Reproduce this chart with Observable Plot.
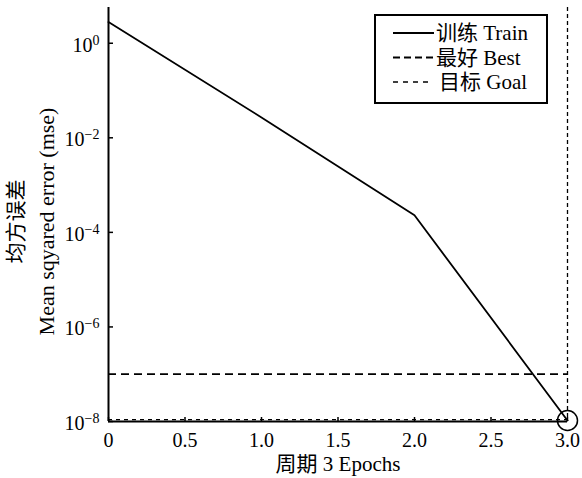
<!DOCTYPE html>
<html>
<head>
<meta charset="utf-8">
<script src="https://cdn.jsdelivr.net/npm/d3@7"></script>
<script src="https://cdn.jsdelivr.net/npm/@observablehq/plot@0.6"></script>
<style>
  html, body { margin: 0; padding: 0; background: #fff; }
  #chart { width: 582px; height: 478px; }
</style>
</head>
<body>
<div id="chart"></div>
<script>
// Training performance (mean squared error per epoch, log scale)
const epochs = [0, 1, 2, 3];
const trainMse = [2.8, 0.027, 2.3e-4, 1.05e-8];
const bestMse = 1e-7;
const goalMse = 1.1e-8;
const bestEpoch = 3;

const xDomain = [0, 3];
const yDomain = [1e-8, 5.7];
const xTicks = [0, 0.5, 1, 1.5, 2, 2.5, 3];
const yTicks = [1e0, 1e-2, 1e-4, 1e-6, 1e-8];

const legendLabels = ["训练 Train", "最好 Best", "目标 Goal"];
const xLabel = "周期 3 Epochs";
const yLabelLines = ["均方误差", "Mean sqyared error (mse)"];

const serif = '"Liberation Serif", "Times New Roman", "Noto Sans CJK SC", serif';
const train = epochs.map((e, i) => ({epoch: e, mse: trainMse[i]}));

const plot = Plot.plot({
  width: 582,
  height: 478,
  marginLeft: 108,
  marginRight: 15,
  marginTop: 7,
  marginBottom: 57,
  style: {fontFamily: serif, fontSize: "20px", background: "#fff", color: "#000"},
  x: {domain: xDomain},
  y: {type: "log", domain: yDomain},
  marks: [
    Plot.ruleY([goalMse], {stroke: "#000", strokeWidth: 1.3, strokeDasharray: "4,4"}),
    Plot.ruleY([bestMse], {stroke: "#000", strokeWidth: 1.8, strokeDasharray: "8,5"}),
    Plot.ruleX([bestEpoch], {stroke: "#000", strokeWidth: 1.3, strokeDasharray: "4,3"}),
    Plot.line(train, {x: "epoch", y: "mse", stroke: "#000", strokeWidth: 1.8}),
    Plot.dot([train[train.length - 1]], {x: "epoch", y: "mse", r: 10, stroke: "#000", strokeWidth: 1.5, fill: "none"}),
    Plot.axisX({
      ticks: xTicks,
      tickFormat: d => d === 0 ? "0" : d.toFixed(1),
      tickSize: -4,
      tickPadding: 15,
      strokeWidth: 1.5,
      fontSize: 20,
      label: null
    }),
    Plot.axisY({
      ticks: yTicks,
      tickFormat: d => "10^" + Math.round(Math.log10(d)),
      tickSize: -5,
      tickPadding: 14,
      strokeWidth: 1.5,
      fontSize: 20,
      label: null
    }),
    Plot.ruleX([xDomain[0]], {stroke: "#000", strokeWidth: 2}),
    Plot.ruleY([yDomain[0]], {stroke: "#000", strokeWidth: 2}),
    Plot.text([xLabel], {frameAnchor: "bottom", dy: 49, fontSize: 21, fill: "#000"}),
    Plot.text([yLabelLines[0]], {
      frameAnchor: "left", textAnchor: "middle", rotate: -90,
      dx: -92, dy: 7, fontSize: 21, fill: "#000"
    }),
    Plot.text([yLabelLines[1]], {
      frameAnchor: "left", textAnchor: "middle", rotate: -90,
      dx: -62, dy: 7, fontSize: 22, fill: "#000"
    })
  ]
});

const svg = d3.select(plot);

// Power-of-ten tick labels with raised exponents
svg.selectAll('[aria-label="y-axis tick label"] text').each(function () {
  const parts = this.textContent.split("^");
  const el = d3.select(this);
  el.text(parts[0]).attr("dy", 2);
  el.append("tspan")
    .attr("dy", "-0.5em")
    .attr("font-size", "14px")
    .text(parts[1].replace("-", "\u2212"));
});

// Legend box in the upper right of the plot area
const legendStyles = [
  {dash: null, width: 2, x2: 434, tx: 436},
  {dash: "7,4", width: 1.8, x2: 434, tx: 436},
  {dash: "5,5", width: 1.3, x2: 430, tx: 439}
];
const rowY = [33, 57.5, 82];
const lg = svg.append("g")
  .attr("font-family", serif)
  .attr("font-size", 21)
  .attr("text-anchor", "start");
lg.append("rect")
  .attr("x", 375).attr("y", 15).attr("width", 172).attr("height", 88)
  .attr("fill", "#fff").attr("stroke", "#000").attr("stroke-width", 2);
legendLabels.forEach((label, i) => {
  const s = legendStyles[i];
  lg.append("line")
    .attr("x1", 393).attr("x2", s.x2).attr("y1", rowY[i]).attr("y2", rowY[i])
    .attr("stroke", "#000").attr("stroke-width", s.width)
    .attr("stroke-dasharray", s.dash);
  lg.append("text")
    .attr("x", s.tx).attr("y", rowY[i]).attr("dy", "0.35em")
    .attr("fill", "#000")
    .text(label);
});

document.getElementById("chart").appendChild(plot);
</script>
</body>
</html>
